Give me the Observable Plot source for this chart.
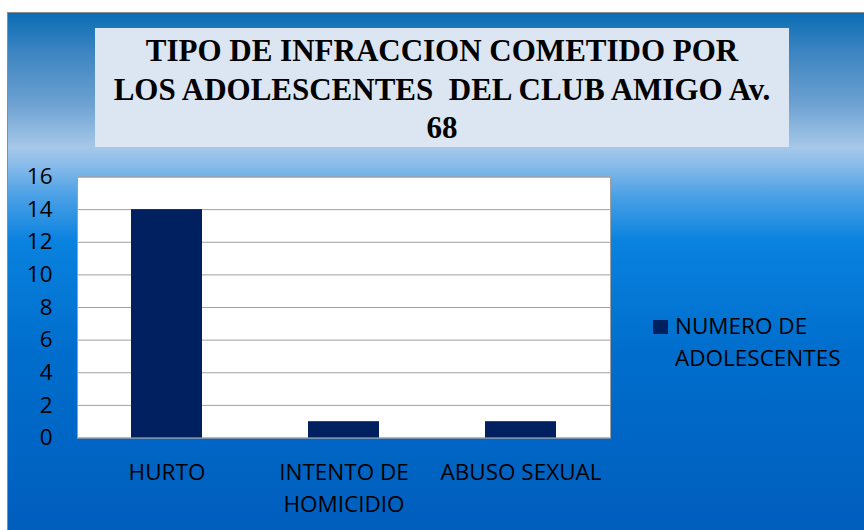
<!DOCTYPE html>
<html>
<head>
<meta charset="utf-8">
<script src="https://cdn.jsdelivr.net/npm/d3@7"></script>
<script src="https://cdn.jsdelivr.net/npm/@observablehq/plot@0.6"></script>
<style>
  html, body { margin: 0; padding: 0; background: #ffffff; }
  #wrap { position: relative; width: 864px; height: 530px; overflow: hidden; background: #ffffff; }
  #bg {
    position: absolute; left: 7px; top: 12px; width: 857px; height: 518px;
    border-left: 1px solid #8c8c8c; border-top: 1px solid #8c8c8c; box-sizing: border-box;
    background: linear-gradient(to bottom,
      #0b6db5 0%, #3f86c2 8%, #6a9fd0 17%, #a6c8e8 26%, #8dbdea 29%, #4ea2e6 35%,
      #0a82df 44%, #006ecd 65%, #005ebd 100%);
  }
  #title {
    position: absolute; left: 95px; top: 28px; width: 694px; height: 119px;
    background: #dce6f2; box-sizing: border-box; padding-top: 4px;
    font-family: "Liberation Serif", "Times New Roman", serif; font-weight: bold;
    font-size: 31px; line-height: 38.5px; text-align: center; color: #000;
    white-space: pre;
  }
  #chart { position: absolute; left: 0; top: 0; }
  #legend-key { position: absolute; left: 653px; top: 320px; width: 15px; height: 14px; background: #002060; }
  #legend-text {
    position: absolute; left: 675px; top: 310px;
    font-family: "Open Sans", sans-serif; font-size: 22.5px; line-height: 32px; color: #000;
  }
</style>
</head>
<body>
<div id="wrap">
  <div id="bg"></div>
  <div id="title"></div>
  <div id="chart"></div>
  <div id="legend-key"></div>
  <div id="legend-text"></div>
</div>
<script>
const titleLines = ["TIPO DE INFRACCION COMETIDO POR", "LOS ADOLESCENTES  DEL CLUB AMIGO Av.", "68"];
const categories = ["HURTO", "INTENTO DE HOMICIDIO", "ABUSO SEXUAL"];
const xTickLabels = ["HURTO", "INTENTO DE\nHOMICIDIO", "ABUSO SEXUAL"];
const values = [14, 1, 1];
const yTicks = [0, 2, 4, 6, 8, 10, 12, 14, 16];
const seriesName = ["NUMERO DE", "ADOLESCENTES"];

document.getElementById("title").textContent = titleLines.join("\n");
document.getElementById("legend-text").innerHTML = seriesName.join("<br>");

const data = categories.map((c, i) => ({cat: c, value: values[i]}));

const chart = Plot.plot({
  width: 864,
  height: 530,
  marginLeft: 77,
  marginRight: 254,
  marginTop: 176.5,
  marginBottom: 92.5,
  style: {background: "transparent", fontFamily: "Open Sans, sans-serif", color: "#000"},
  x: {domain: categories, paddingInner: 0.6, paddingOuter: 0.3},
  y: {domain: [0, 16]},
  marks: [
    Plot.frame({fill: "white", stroke: null}),
    Plot.ruleY(yTicks, {stroke: "#a0a0a0", strokeWidth: 1}),
    Plot.frame({stroke: "#a0a0a0"}),
    Plot.barY(data, {x: "cat", y: "value", fill: "#002060"}),
    Plot.axisY({ticks: yTicks, tickSize: 0, tickPadding: 25, fontSize: 22.5, label: null, fill: "#000"}),
    Plot.axisX({tickSize: 0, tickPadding: 19, fontSize: 22.5, lineHeight: 1.42, label: null, fill: "#000",
      tickFormat: d => xTickLabels[categories.indexOf(d)]})
  ]
});
document.getElementById("chart").appendChild(chart);
</script>
</body>
</html>
